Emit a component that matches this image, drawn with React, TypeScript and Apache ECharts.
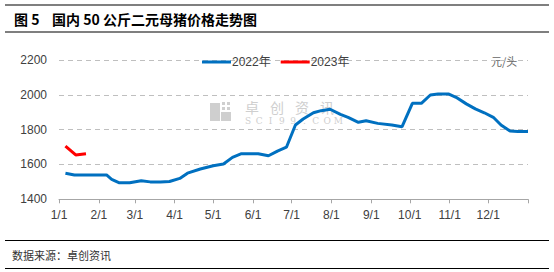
import React, { useEffect, useRef } from "react";
import * as echarts from "echarts";

// Month-start day indices (day 0 = 1/1) and their tick labels
const monthStarts = [0, 31, 59, 90, 120, 151, 181, 212, 243, 273, 304, 334, 365];
const monthLabels = ["1/1", "2/1", "3/1", "4/1", "5/1", "6/1", "7/1", "8/1", "9/1", "10/1", "11/1", "12/1", ""];

// 2022 weekly price points: day index and value (元/头)
const days2022 = [5, 12, 19, 26, 33, 37, 41, 47, 55, 64, 71, 79, 86, 94, 100, 110, 120, 128, 135, 142, 149, 155, 163, 170, 177, 184, 190, 198, 204, 211, 219, 225, 233, 239, 248, 259, 267, 275, 282, 289, 295, 303, 309, 317, 324, 331, 338, 344, 351, 357, 365];
const values2022 = [1550, 1540, 1540, 1540, 1540, 1540, 1515, 1495, 1495, 1507, 1500, 1500, 1502, 1520, 1550, 1574, 1593, 1603, 1641, 1662, 1662, 1662, 1650, 1677, 1699, 1827, 1861, 1897, 1909, 1917, 1888, 1871, 1842, 1851, 1836, 1827, 1817, 1951, 1951, 1999, 2005, 2005, 1986, 1948, 1919, 1897, 1871, 1827, 1792, 1790, 1790];

// 2023 points
const days2023 = [5, 13, 21];
const values2023 = [1706, 1655, 1662];

const yTicks = { min: 1400, max: 2200, interval: 200 };

function buildCategories(): string[] {
  const out: string[] = [];
  const d = new Date(2022, 0, 1);
  for (let i = 0; i <= 365; i++) {
    out.push(`${d.getMonth() + 1}/${d.getDate()}`);
    d.setDate(d.getDate() + 1);
  }
  return out;
}

export default function App() {
  const ref = useRef<HTMLDivElement>(null);
  useEffect(() => {
    if (!ref.current) return;
    const chart = echarts.init(ref.current, null, { renderer: "svg" });
    const categories = buildCategories();
    const labelAt = (i: number) => {
      const k = monthStarts.indexOf(i);
      return k >= 0 ? monthLabels[k] : "";
    };
    const wmColor = "#CFCFCF";
    const wmChars = ["卓", "创", "资", "讯"];
    const wmSub = ["S", "C", "I", "9", "9", ".", "C", "O", "M"];
    const graphics: any[] = [
      { type: "line", shape: { x1: 5, y1: 5, x2: 549, y2: 5 }, style: { stroke: "#000", lineWidth: 1.2 } },
      { type: "line", shape: { x1: 5, y1: 32, x2: 549, y2: 32 }, style: { stroke: "#000", lineWidth: 1.2 } },
      { type: "line", shape: { x1: 5, y1: 240.5, x2: 549, y2: 240.5 }, style: { stroke: "#000", lineWidth: 1.2 } },
      { type: "line", shape: { x1: 5, y1: 268.5, x2: 549, y2: 268.5 }, style: { stroke: "#000", lineWidth: 1.2 } },
      { type: "text", x: 14, y: 19, style: { text: "图 5", font: "bold 14px 'Noto Sans CJK SC'", fill: "#000", verticalAlign: "middle" } },
      { type: "text", x: 52, y: 19, style: { text: "国内 50 公斤二元母猪价格走势图", font: "bold 14px 'Noto Sans CJK SC'", fill: "#000", verticalAlign: "middle" } },
      { type: "text", x: 12, y: 255, style: { text: "数据来源：卓创资讯", font: "11px 'Noto Sans CJK SC'", fill: "#333", verticalAlign: "middle" } },
      { type: "text", x: 491, y: 61, style: { text: "元/头", font: "11px 'Noto Sans CJK SC'", fill: "#666", verticalAlign: "middle" } },
      // watermark logo
      { type: "rect", shape: { x: 210, y: 103, width: 10, height: 18 }, style: { fill: wmColor } },
      { type: "rect", shape: { x: 221, y: 112, width: 10, height: 9 }, style: { fill: wmColor } },
      { type: "rect", shape: { x: 222, y: 102, width: 3, height: 3 }, style: { fill: wmColor } },
      { type: "rect", shape: { x: 227, y: 102, width: 3, height: 3 }, style: { fill: wmColor } },
      { type: "rect", shape: { x: 222, y: 107, width: 3, height: 3 }, style: { fill: wmColor } },
      { type: "rect", shape: { x: 227, y: 107, width: 3, height: 3 }, style: { fill: wmColor } },
    ];
    wmChars.forEach((c, i) => {
      graphics.push({ type: "text", x: 252 + i * 25, y: 107, style: { text: c, font: "14px 'Noto Sans CJK SC'", fill: wmColor, align: "center", verticalAlign: "middle" } });
    });
    wmSub.forEach((c, i) => {
      graphics.push({ type: "text", x: 248 + i * 11.3, y: 120.5, style: { text: c, font: "9px 'DejaVu Serif'", fill: wmColor, align: "center", verticalAlign: "middle" } });
    });

    chart.setOption({
      animation: false,
      grid: { left: 59, right: 26, top: 60, bottom: 72.7 },
      legend: {
        left: 197,
        top: 51,
        itemWidth: 29,
        itemHeight: 3,
        itemGap: 10,
        icon: "rect",
        textStyle: { fontFamily: "'Liberation Sans', 'Noto Sans CJK SC'", fontSize: 12, color: "#404040", padding: [0, 0, 0, -4] },
        data: ["2022年", "2023年"],
      },
      xAxis: {
        type: "category",
        boundaryGap: false,
        data: categories,
        axisLine: { lineStyle: { color: "#A6A6A6", width: 1 } },
        axisTick: { length: 4, lineStyle: { color: "#A6A6A6" }, interval: (i: number) => monthStarts.indexOf(i) >= 0 },
        axisLabel: {
          interval: (i: number) => monthStarts.indexOf(i) >= 0,
          formatter: (_v: string, i: number) => labelAt(i),
          fontFamily: "'Liberation Sans'",
          fontSize: 12,
          color: "#404040",
          margin: 10,
        },
        splitLine: { show: false },
      },
      yAxis: {
        type: "value",
        min: yTicks.min,
        max: yTicks.max,
        interval: yTicks.interval,
        axisLine: { show: false },
        axisTick: { show: false },
        axisLabel: { fontFamily: "'Liberation Sans'", fontSize: 12, color: "#404040", margin: 12, formatter: (v: number) => String(v) },
        splitLine: { lineStyle: { color: "#BFBFBF", type: [5, 4], width: 1 } },
      },
      graphic: graphics,
      series: [
        {
          name: "2022年",
          type: "line",
          data: days2022.map((d, i) => [d, values2022[i]]),
          showSymbol: false,
          symbol: "none",
          lineStyle: { color: "#0070C0", width: 3 },
          itemStyle: { color: "#0070C0" },
        },
        {
          name: "2023年",
          type: "line",
          data: days2023.map((d, i) => [d, values2023[i]]),
          showSymbol: false,
          symbol: "none",
          lineStyle: { color: "#FF0000", width: 3 },
          itemStyle: { color: "#FF0000" },
        },
      ],
    });
    return () => chart.dispose();
  }, []);
  return <div ref={ref} style={{ position: "fixed", left: 0, top: 0, width: 554, height: 272, background: "#fff" }} />;
}
